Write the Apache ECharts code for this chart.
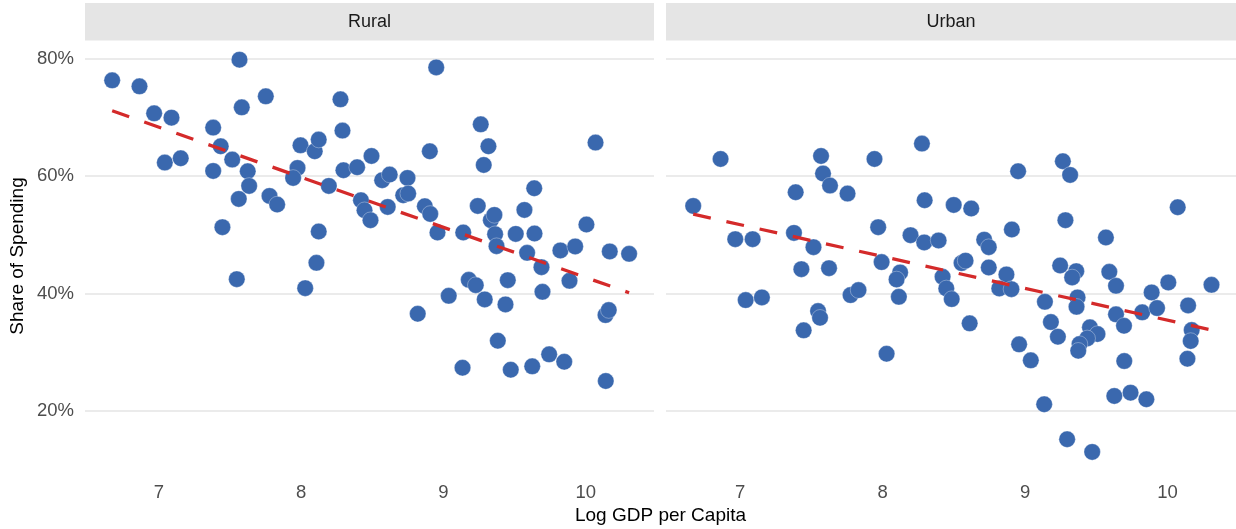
<!DOCTYPE html>
<html>
<head>
<meta charset="utf-8">
<script src="https://cdn.jsdelivr.net/npm/echarts@6/dist/echarts.min.js"></script>
<style>
  html, body { margin: 0; padding: 0; background: #ffffff; }
  #chart { width: 1236px; height: 529px; }
</style>
</head>
<body>
<div id="chart"></div>
<script>
// Facet names
const panels = ['Rural', 'Urban'];

// Rural: log GDP per capita and share of spending (%)
const ruralX = [6.671, 6.863, 6.966, 7.088, 7.041, 7.153, 7.381, 7.434, 7.381, 7.515,
  7.566, 7.582, 7.624, 7.634, 7.561, 7.446, 7.547, 7.751, 7.777, 7.831,
  7.995, 7.974, 7.943, 8.028, 8.095, 8.123, 8.194, 8.123, 8.107, 8.276,
  8.290, 8.297, 8.393, 8.420, 8.445, 8.487, 8.494, 8.569, 8.622, 8.608,
  8.747, 8.717, 8.752, 8.819, 8.869, 8.907, 8.904, 8.949, 8.958, 9.037,
  9.134, 9.139, 9.178, 9.227, 9.241, 9.262, 9.283, 9.316, 9.290, 9.333,
  9.358, 9.363, 9.373, 9.382, 9.436, 9.452, 9.473, 9.508, 9.569, 9.588,
  9.638, 9.624, 9.640, 9.689, 9.696, 9.743, 9.822, 9.849, 9.886, 9.926,
  10.005, 10.069, 10.141, 10.139, 10.162, 10.169, 10.305];
const ruralY = [76.31, 75.29, 70.69, 69.96, 62.31, 63.04, 68.26, 65.08, 60.88, 62.82,
  79.83, 71.71, 60.83, 58.33, 56.11, 51.30, 42.45, 73.59, 56.62, 55.16,
  65.25, 61.39, 59.69, 40.92, 64.23, 66.22, 58.33, 50.57, 45.23, 73.08,
  67.75, 61.00, 61.51, 55.89, 54.19, 52.49, 63.43, 59.30, 60.27, 54.75,
  59.69, 56.74, 57.03, 36.55, 54.87, 53.56, 64.23, 78.52, 50.40, 39.61,
  27.36, 50.40, 42.33, 41.43, 54.92, 68.82, 61.90, 65.08, 39.00, 52.49,
  53.39, 50.11, 48.07, 31.96, 38.15, 42.28, 27.02, 50.16, 54.24, 46.93,
  57.93, 27.60, 50.23, 44.49, 40.29, 29.64, 47.34, 28.38, 42.16, 48.02,
  51.76, 65.71, 25.10, 36.33, 37.18, 47.17, 46.76];

// Urban: log GDP per capita and share of spending (%)
const urbanX = [6.671, 6.863, 6.966, 7.088, 7.039, 7.153, 7.390, 7.378, 7.430, 7.446,
  7.515, 7.568, 7.582, 7.631, 7.624, 7.547, 7.561, 7.754, 7.775, 7.831,
  7.943, 7.969, 7.993, 8.028, 8.123, 8.098, 8.114, 8.196, 8.276, 8.292,
  8.295, 8.393, 8.421, 8.447, 8.485, 8.499, 8.554, 8.582, 8.622, 8.611,
  8.713, 8.745, 8.745, 8.869, 8.819, 8.904, 8.907, 8.951, 8.958, 9.040,
  9.139, 9.181, 9.230, 9.134, 9.246, 9.265, 9.316, 9.283, 9.359, 9.330,
  9.368, 9.361, 9.455, 9.508, 9.436, 9.382, 9.373, 9.295, 9.471, 9.567,
  9.591, 9.638, 9.638, 9.694, 9.696, 9.626, 9.740, 9.851, 9.822, 9.888,
  9.926, 10.005, 10.071, 10.144, 10.169, 10.162, 10.139, 10.308];
const urbanY = [54.92, 62.92, 49.26, 49.26, 38.88, 39.34, 57.25, 50.33, 44.15, 33.73,
  47.90, 63.43, 60.44, 58.39, 44.32, 37.01, 35.87, 57.03, 39.73, 40.58,
  62.92, 51.30, 45.35, 29.74, 43.59, 42.40, 39.44, 49.94, 65.54, 48.70,
  55.89, 49.04, 42.84, 40.87, 39.05, 55.09, 45.18, 45.60, 54.48, 34.92,
  49.17, 47.90, 44.44, 43.25, 40.87, 40.75, 50.91, 60.83, 31.34, 28.62,
  38.59, 35.14, 32.64, 21.14, 44.78, 62.53, 60.20, 52.49, 43.81, 42.74,
  39.34, 37.74, 34.24, 33.10, 32.36, 31.39, 30.25, 15.18, 13.02, 49.55,
  43.69, 41.31, 36.45, 34.51, 28.50, 22.55, 23.11, 21.99, 36.79, 40.19,
  37.52, 41.89, 54.70, 37.98, 33.78, 31.91, 28.89, 41.48];

// Axis tick labels
const xTicks = [7, 8, 9, 10];
const yTicks = [20, 40, 60, 80];

// Ordinary least-squares line over the data range of one facet
function linearFit(xs, ys) {
  const n = xs.length;
  let sx = 0, sy = 0;
  for (let i = 0; i < n; i++) { sx += xs[i]; sy += ys[i]; }
  const mx = sx / n, my = sy / n;
  let sxy = 0, sxx = 0;
  for (let i = 0; i < n; i++) {
    sxy += (xs[i] - mx) * (ys[i] - my);
    sxx += (xs[i] - mx) * (xs[i] - mx);
  }
  const b = sxy / sxx, a = my - b * mx;
  const lo = Math.min(...xs), hi = Math.max(...xs);
  return [[lo, a + b * lo], [hi, a + b * hi]];
}

const zip = (xs, ys) => xs.map((x, i) => [x, ys[i]]);
const facetData = [zip(ruralX, ruralY), zip(urbanX, urbanY)];
const facetFits = [linearFit(ruralX, ruralY), linearFit(urbanX, urbanY)];

const FONT = '"Liberation Sans", Arial, Helvetica, sans-serif';
const POINT = '#3a68ae';
const TREND = '#d42a2a';

const panelBoxes = [
  { left: 85, width: 569 },
  { left: 666, width: 570 }
];
const panelTop = 40.5, panelHeight = 431.5;

const chart = echarts.init(document.getElementById('chart'), null, { renderer: 'canvas' });

const option = {
  backgroundColor: '#ffffff',
  animation: false,
  grid: panelBoxes.map(p => ({
    left: p.left, width: p.width, top: panelTop, height: panelHeight,
    containLabel: false
  })),
  xAxis: panels.map((_, i) => ({
    type: 'value', gridIndex: i, min: 6.48, max: 10.48,
    axisLine: { show: false },
    axisTick: { show: false, customValues: xTicks },
    splitLine: { show: false },
    axisLabel: {
      customValues: xTicks, margin: 11,
      color: '#4d4d4d', fontSize: 18.5, fontFamily: FONT
    }
  })),
  yAxis: panels.map((_, i) => ({
    type: 'value', gridIndex: i, min: 9.6, max: 83.1,
    axisLine: { show: false },
    axisTick: { show: false, customValues: yTicks },
    splitLine: { show: true, lineStyle: { color: '#ebebeb', width: 1.8 } },
    axisLabel: {
      show: i === 0, customValues: yTicks, margin: 11,
      formatter: '{value}%',
      color: '#4d4d4d', fontSize: 18.5, fontFamily: FONT
    }
  })),
  series: [
    ...panels.map((name, i) => ({
      name: name, type: 'scatter', xAxisIndex: i, yAxisIndex: i,
      data: facetData[i], symbol: 'circle', symbolSize: 16.5,
      itemStyle: { color: POINT, opacity: 1, borderColor: 'rgba(255,255,255,0.55)', borderWidth: 0.6 },
      z: 2
    })),
    ...panels.map((name, i) => ({
      name: name + ' trend', type: 'line', xAxisIndex: i, yAxisIndex: i,
      data: facetFits[i], symbol: 'none', silent: true,
      lineStyle: { color: TREND, width: 3.3, type: [18, 16] },
      z: 3
    }))
  ],
  graphic: [
    ...panels.map((name, i) => ({
      type: 'group',
      children: [
        {
          type: 'rect',
          shape: { x: panelBoxes[i].left, y: 3, width: panelBoxes[i].width, height: 37.5 },
          style: { fill: '#e5e5e5' }
        },
        {
          type: 'text',
          x: panelBoxes[i].left + panelBoxes[i].width / 2, y: 22,
          style: {
            text: name, fill: '#1a1a1a', font: '18px ' + FONT,
            textAlign: 'center', textVerticalAlign: 'middle'
          }
        }
      ]
    })),
    {
      type: 'text', x: 660.5, y: 516,
      style: {
        text: 'Log GDP per Capita', fill: '#000000', font: '19px ' + FONT,
        textAlign: 'center', textVerticalAlign: 'middle'
      }
    },
    {
      type: 'text', x: 17.5, y: 256, rotation: Math.PI / 2,
      style: {
        text: 'Share of Spending', fill: '#000000', font: '19px ' + FONT,
        textAlign: 'center', textVerticalAlign: 'middle'
      }
    }
  ]
};

chart.setOption(option);
</script>
</body>
</html>
